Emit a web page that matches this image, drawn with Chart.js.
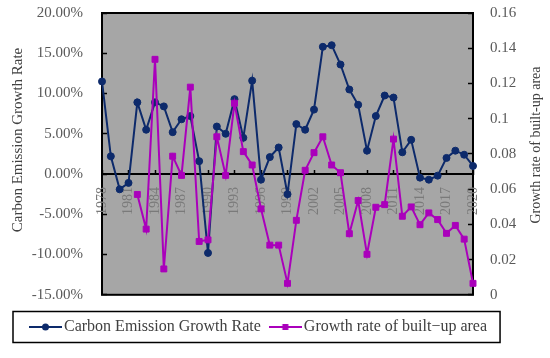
<!DOCTYPE html>
<html>
<head>
<meta charset="utf-8">
<script src="https://cdn.jsdelivr.net/npm/chart.js@4"></script>
<style>
  html, body { margin: 0; padding: 0; background: #fff; }
  #wrap { width: 550px; height: 358px; }
</style>
</head>
<body>
<div id="wrap"><canvas id="chart" width="550" height="358"></canvas></div>
<script>
const years = ['1978', '1979', '1980', '1981', '1982', '1983', '1984', '1985', '1986', '1987',
  '1988', '1989', '1990', '1991', '1992', '1993', '1994', '1995', '1996', '1997',
  '1998', '1999', '2000', '2001', '2002', '2003', '2004', '2005', '2006', '2007',
  '2008', '2009', '2010', '2011', '2012', '2013', '2014', '2015', '2016', '2017',
  '2018', '2019', '2020'];
const yearTicks = ['1978', '1981', '1984', '1987', '1990', '1993', '1996', '1999',
  '2002', '2005', '2008', '2011', '2014', '2017', '2020'];

// carbon emission growth rate, in percent (left axis)
const carbonRate = [11.5, 2.2, -1.9, -1.1, 8.9, 5.5, 8.9, 8.4, 5.2, 6.8,
  7.2, 1.6, -9.8, 5.9, 5.0, 9.3, 4.5, 11.6, -0.7, 2.1,
  3.3, -2.5, 6.2, 5.5, 8.0, 15.8, 16.0, 13.6, 10.5, 8.6,
  2.9, 7.2, 9.75, 9.5, 2.7, 4.25, -0.45, -0.7, -0.2, 2.0,
  2.9, 2.4, 1.0];
// growth rate of built-up area (right axis), no data before 1982
const builtUpRate = [null, null, null, null, 0.057, 0.0373, 0.1337, 0.0147, 0.0787, 0.0678,
  0.1179, 0.0303, 0.0312, 0.0897, 0.0678, 0.1088, 0.0813, 0.0737, 0.0488, 0.0282,
  0.0282, 0.0065, 0.0423, 0.0707, 0.0807, 0.0897, 0.0737, 0.0693, 0.0347, 0.0535,
  0.023, 0.0497, 0.0512, 0.0884, 0.0446, 0.0499, 0.0398, 0.0465, 0.0427, 0.0349,
  0.0394, 0.0316, 0.0065];

const leftTicks = [-15, -10, -5, 0, 5, 10, 15, 20];
const rightTicks = [0, 0.02, 0.04, 0.06, 0.08, 0.1, 0.12, 0.14, 0.16];

const seriesNames = ['Carbon Emission Growth Rate', 'Growth rate of built\u2212up area'];
const axisTitles = ['Carbon Emission Growth Rate', 'Growth rate of built-up area'];

const navy = '#0d2a6b';
const purple = '#aa00bb';

Chart.defaults.font.family = "'Liberation Serif', 'Times New Roman', serif";

// small legend samples: line with the marker in the middle
function legendSample(color, square) {
  const c = document.createElement('canvas');
  c.width = 33;
  c.height = 12;
  const g = c.getContext('2d');
  g.strokeStyle = color;
  g.lineWidth = 2;
  g.beginPath();
  g.moveTo(0, 6);
  g.lineTo(33, 6);
  g.stroke();
  g.fillStyle = color;
  if (square) {
    g.fillRect(13.5, 3, 6, 6);
  } else {
    g.beginPath();
    g.arc(16.5, 6, 3.5, 0, Math.PI * 2);
    g.fill();
  }
  return c;
}
const samples = [legendSample(navy, false), legendSample(purple, true)];

const framePlugin = {
  id: 'frame',
  beforeDraw(chart) {
    const { ctx, chartArea } = chart;
    const { left, top, right, bottom } = chartArea;
    ctx.save();
    ctx.fillStyle = '#a6a6a6';
    ctx.fillRect(left, top, right - left, bottom - top);
    ctx.strokeStyle = '#000';
    ctx.lineWidth = 2;
    ctx.strokeRect(left, top, right - left, bottom - top);
    ctx.restore();
  },
  afterDraw(chart) {
    const ctx = chart.ctx;
    ctx.save();
    // axis titles, both read bottom to top
    ctx.fillStyle = '#404040';
    ctx.textAlign = 'center';
    ctx.textBaseline = 'middle';
    ctx.font = "15px 'Liberation Serif'";
    ctx.translate(18, 140);
    ctx.rotate(-Math.PI / 2);
    ctx.fillText(axisTitles[0], 0, 0);
    ctx.setTransform(1, 0, 0, 1, 0, 0);
    ctx.font = "14px 'Liberation Serif'";
    ctx.translate(536, 145);
    ctx.rotate(-Math.PI / 2);
    ctx.fillText(axisTitles[1], 0, 0);
    ctx.setTransform(1, 0, 0, 1, 0, 0);
    // box around the legend
    const boxes = chart.legend.legendHitBoxes;
    if (boxes && boxes.length) {
      const first = boxes[0];
      const last = boxes[boxes.length - 1];
      const cy = first.top + first.height / 2;
      ctx.strokeStyle = '#000';
      ctx.lineWidth = 1.5;
      ctx.strokeRect(first.left - 22, cy - 15.5, last.left + last.width + 13 - (first.left - 22), 31);
    }
    ctx.restore();
  }
};

function fixY(width) {
  return s => {
    s.width = width;
    s.paddingTop = 0;
    s.paddingBottom = 0;
  };
}

new Chart(document.getElementById('chart'), {
  type: 'line',
  data: {
    labels: years,
    datasets: [
      {
        label: seriesNames[0],
        data: carbonRate,
        yAxisID: 'y',
        borderColor: navy,
        backgroundColor: navy,
        borderWidth: 2,
        pointStyle: 'circle',
        pointRadius: 3.5,
        pointBorderWidth: 1,
        order: 2
      },
      {
        label: seriesNames[1],
        data: builtUpRate,
        yAxisID: 'y1',
        borderColor: purple,
        backgroundColor: purple,
        borderWidth: 2,
        pointStyle: 'rect',
        pointRadius: 4.2,
        pointBorderWidth: 1,
        order: 1
      }
    ]
  },
  options: {
    responsive: false,
    animation: false,
    layout: { padding: { left: 21, right: 0, top: 13, bottom: 13 } },
    plugins: {
      tooltip: { enabled: false },
      legend: {
        position: 'bottom',
        align: 'start',
        // empty title only keeps a gap between plot and legend
        title: { display: true, text: '', font: { size: 1 }, padding: { top: 9, bottom: 0 } },
        labels: {
          usePointStyle: true,
          pointStyleWidth: 21,
          padding: 14,
          color: '#404040',
          font: { size: 16 },
          generateLabels(chart) {
            const items = Chart.defaults.plugins.legend.labels.generateLabels(chart);
            items.sort((a, b) => a.datasetIndex - b.datasetIndex);
            items.forEach(it => { it.pointStyle = samples[it.datasetIndex]; });
            return items;
          }
        }
      }
    },
    scales: {
      x: {
        type: 'category',
        offset: false,
        position: { y: 0 },
        grid: { display: true, drawOnChartArea: false, drawTicks: true, tickLength: -5, tickColor: '#000', tickWidth: 1.5 },
        border: { display: true, color: '#000', width: 2 },
        ticks: {
          autoSkip: false,
          minRotation: 90,
          maxRotation: 90,
          padding: 18,
          color: '#7a7a7a',
          font: { size: 14 },
          callback(v) {
            const lab = this.getLabelForValue(v);
            return yearTicks.includes(lab) ? lab : null;
          }
        }
      },
      y: {
        position: 'left',
        min: leftTicks[0],
        max: leftTicks[leftTicks.length - 1],
        afterFit: fixY(81),
        afterBuildTicks(s) { s.ticks = leftTicks.map(v => ({ value: v })); },
        grid: { drawOnChartArea: false, drawTicks: true, tickLength: -5, tickColor: '#000', tickWidth: 1.5 },
        border: { display: false },
        ticks: {
          padding: 24,
          color: '#595959',
          font: { size: 15 },
          callback: v => v.toFixed(2) + '%'
        }
      },
      y1: {
        position: 'right',
        min: rightTicks[0],
        max: rightTicks[rightTicks.length - 1],
        afterFit: fixY(77),
        afterBuildTicks(s) { s.ticks = rightTicks.map(v => ({ value: v })); },
        grid: { drawOnChartArea: false, drawTicks: true, tickLength: -5, tickColor: '#000', tickWidth: 1.5 },
        border: { display: false },
        ticks: {
          padding: 22,
          color: '#595959',
          font: { size: 15 },
          callback: v => String(v)
        }
      }
    }
  },
  plugins: [framePlugin]
});
</script>
</body>
</html>
